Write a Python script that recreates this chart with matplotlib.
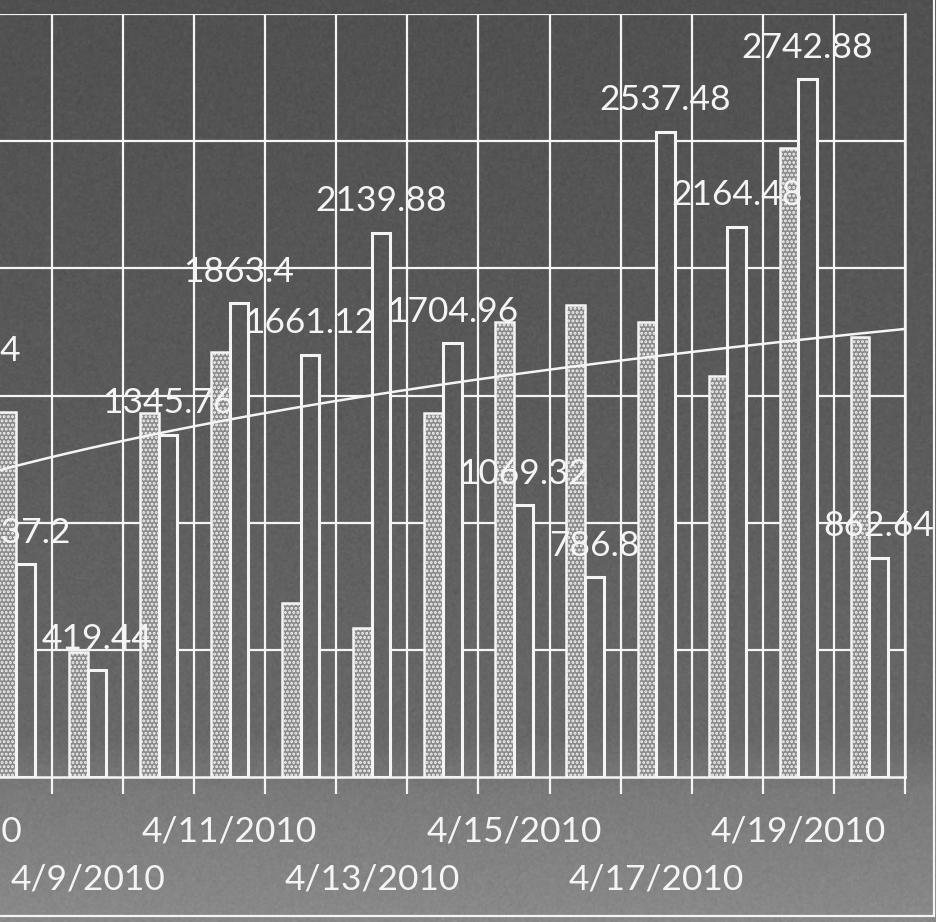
import numpy as np
import matplotlib
matplotlib.use("Agg")
import matplotlib.pyplot as plt
from matplotlib.patches import Rectangle
from matplotlib.ticker import FixedFormatter, MultipleLocator, NullLocator

# ---- data -------------------------------------------------------------
days = [7, 8, 9, 10, 11, 12, 13, 14, 15, 16, 17, 18, 19, 20]
date_labels = ["4/7/2010", "4/8/2010", "4/9/2010", "4/10/2010", "4/11/2010",
               "4/12/2010", "4/13/2010", "4/14/2010", "4/15/2010", "4/16/2010",
               "4/17/2010", "4/18/2010", "4/19/2010", "4/20/2010"]
# first series (stippled columns); the 4/7 column lies outside the view
stipple_vals = [np.nan, 1436, 490, 1432, 1672, 685, 586, 1432, 1790, 1857,
                1790, 1578, 2475, 1731]
# second series (outlined columns, labelled)
outline_vals = [1553.44, 837.2, 419.44, 1345.76, 1863.4, 1661.12, 2139.88,
                1704.96, 1069.32, 786.8, 2537.48, 2164.48, 2742.88, 862.64]
# logarithmic trendline: y = a + b * ln(day index)
trend_a, trend_b = 34.0, 572.0

# ---- style ------------------------------------------------------------
W, H, DPI = 937, 922, 100
FONT = ["Lato", "DejaVu Sans"]
plt.rcParams["font.family"] = FONT
plt.rcParams["hatch.linewidth"] = 1.4
chalk = "#f4f4f4"
FS = 25.5

fig = plt.figure(figsize=(W / DPI, H / DPI), dpi=DPI)

# board background: vertical gradient with a faint grain
rows = 461
ypos = np.linspace(0, 1, rows)
gray = np.interp(ypos, [0.0, 0.45, 0.80, 0.86, 1.0],
                 [0.315, 0.355, 0.41, 0.48, 0.54])
rng = np.random.default_rng(7)
grain = rng.normal(0, 0.012, (rows, 469))
board = np.clip(gray[:, None] + grain, 0, 1)
board_rgb = np.dstack([board] * 3)

bg = fig.add_axes([0, 0, 1, 1], zorder=-5)
bg.imshow(board_rgb, extent=[0, 1, 0, 1], aspect="auto", interpolation="bilinear")
bg.set_axis_off()

# plot area placed so that the leftmost categories run off the board
left_px, right_px, top_px, base_px = -90.2, 905.0, 14.0, 777.0
ax = fig.add_axes([left_px / W, (H - base_px) / H,
                   (right_px - left_px) / W, (base_px - top_px) / H])
ax.set_facecolor("none")

x = np.array(days, dtype=float)
bw = 0.262
s_vals = np.array(stipple_vals, dtype=float)
o_vals = np.array(outline_vals, dtype=float)

# gridlines
for yv in np.arange(500, 3001, 500):
    ax.axhline(yv, color=chalk, lw=1.6, zorder=0.5)
for xv in np.arange(6.5, 21.0, 1.0):
    ax.axvline(xv, color=chalk, lw=1.6, zorder=0.5)

# stippled columns
mask = ~np.isnan(s_vals)
ax.bar(x[mask] - bw / 2, s_vals[mask], width=bw, facecolor="#8a8a8a",
       edgecolor=chalk, hatch="....", linewidth=1.8, zorder=2)

# outlined columns: interior shows the board through, hiding gridlines
obars = ax.bar(x + bw / 2, o_vals, width=bw, facecolor="none",
               edgecolor=chalk, linewidth=2.2, zorder=3)
for rect in obars:
    im = ax.imshow(board_rgb, extent=[0, 1, 0, 1], transform=fig.transFigure,
                   aspect="auto", interpolation="bilinear", zorder=1.8)
    im.set_clip_path(rect)

# trendline
xt = np.linspace(6.5, 20.5, 300)
ax.plot(xt, trend_a + trend_b * np.log(xt), color=chalk, lw=1.8, zorder=4)

# value labels on the outlined series
for xi, v in zip(x, o_vals):
    ax.annotate(f"{v:g}", xy=(xi + bw / 2, v), xytext=(0, 11),
                textcoords="offset points", ha="center", va="bottom",
                fontsize=FS, color=chalk, zorder=5)

ax.set_xlim(6.5, 20.5)
ax.set_ylim(0, 3000)

# axis: tick marks at category boundaries
ax.xaxis.set_major_locator(MultipleLocator(1.0, offset=0.5))
ax.xaxis.set_major_formatter(FixedFormatter([]))
ax.xaxis.set_minor_locator(NullLocator())
ax.tick_params(axis="x", which="major", direction="out", length=12,
               width=1.6, color=chalk)
ax.yaxis.set_visible(False)

# staggered date labels: every other odd day, alternating rows
shown = [i for i, d in enumerate(days) if d % 2 == 1]
upper = shown[0::2]
lower = shown[1::2]

top_row = ax.secondary_xaxis("bottom")
top_row.set_xticks([days[i] for i in upper], labels=[date_labels[i] for i in upper])
top_row.tick_params(length=0, pad=28, labelsize=FS, labelcolor=chalk)
top_row.spines["bottom"].set_visible(False)

low_row = ax.secondary_xaxis("bottom")
low_row.set_xticks([days[i] for i in lower], labels=[date_labels[i] for i in lower])
low_row.tick_params(length=0, pad=62, labelsize=FS, labelcolor=chalk)
low_row.spines["bottom"].set_visible(False)

for side in ("left", "top"):
    ax.spines[side].set_visible(False)
for side in ("right", "bottom"):
    ax.spines[side].set_color(chalk)
    ax.spines[side].set_linewidth(1.8)

# chart area frame
fig.add_artist(Rectangle((-0.05, (H - 916) / H), 934 / W + 0.05, 1.2,
                         transform=fig.transFigure, fill=False,
                         edgecolor=chalk, lw=1.6, clip_on=False))

fig.savefig("out.png", dpi=DPI)
